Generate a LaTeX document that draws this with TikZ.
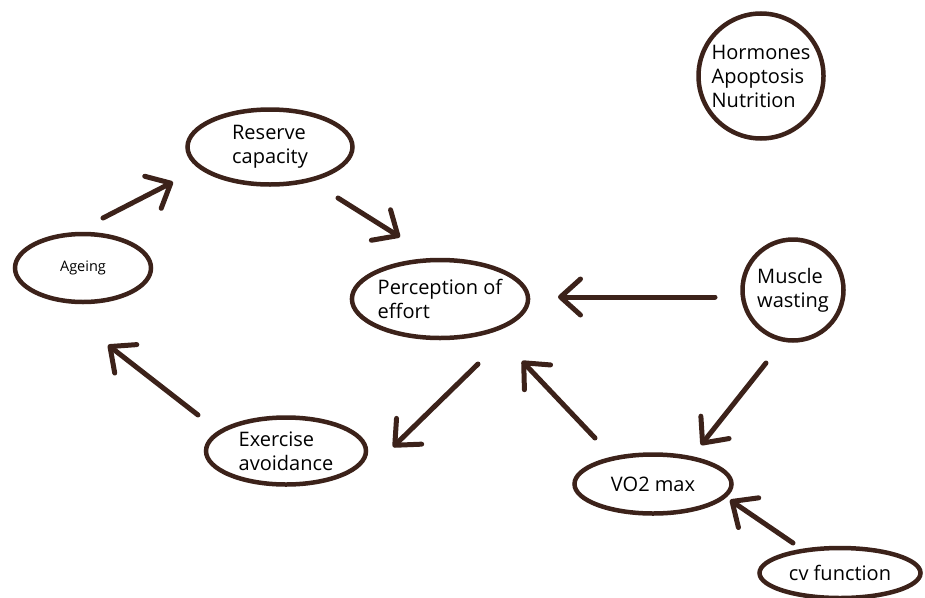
\documentclass[tikz,border=0pt]{standalone}
\usepackage{fontspec}
\setmainfont{Open Sans}
\usetikzlibrary{arrows.meta,shapes.geometric}
\definecolor{marrom}{RGB}{60,34,26}
\tikzset{
  bolha/.style={draw=marrom,line width=4.5pt,ellipse,inner sep=0pt,align=left,font=\fontsize{20}{24}\selectfont},
  bola/.style={draw=marrom,line width=4.5pt,circle,inner sep=0pt,align=left,font=\fontsize{20}{24}\selectfont},
  seta/.style={draw=marrom,line width=5pt,line cap=round,-{Straight Barb[round,length=20pt,width=36pt]}},
}
\begin{document}
\begin{tikzpicture}[x=1pt,y=-1pt]
  \useasboundingbox (0,0) rectangle (925,597);
  % elipses
  \node[bolha,minimum width=165pt,minimum height=75pt] (reserva) at (270,147) {Reserve\\capacity};
  \node[bolha,minimum width=136pt,minimum height=68pt,font=\fontsize{14.5}{17}\selectfont] (ageing) at (83,268) {Ageing};
  \node[bolha,minimum width=170pt,minimum height=78pt] (percep) at (440,299) {Perception of\\effort};
  \node[bolha,minimum width=160pt,minimum height=67pt] (exerc) at (286,451) {Exercise\\avoidance};
  \node[bolha,minimum width=157pt,minimum height=59pt] (vo) at (653,484) {VO2 max};
  \node[bolha,minimum width=161pt,minimum height=50pt] (cv) at (840,573) {cv function};
  % circulos
  \node[bola,minimum size=101pt] (muscle) at (793,290) {Muscle\\wasting};
  \node[bola,minimum size=125pt] (horm) at (761,76) {Hormones\\Apoptosis\\Nutrition};
  % setas (soltas, deslocadas dos centros)
  \draw[seta] ([shift={(20,-50)}]ageing.center) -- ([shift={(-97,35)}]reserva.center);
  \draw[seta] ([shift={(68,51)}]reserva.center) -- ([shift={(-40,-62)}]percep.center);
  \draw[seta] ([shift={(-78,7)}]muscle.center) -- ([shift={(118,-2)}]percep.center);
  \draw[seta] ([shift={(38,65)}]percep.center) -- ([shift={(107,-4)}]exerc.center);
  \draw[seta] ([shift={(-58,-46)}]vo.center) -- ([shift={(82,62)}]percep.center);
  \draw[seta] ([shift={(-27,73)}]muscle.center) -- ([shift={(48,-39)}]vo.center);
  \draw[seta] ([shift={(-47,-30)}]cv.center) -- ([shift={(77,16)}]vo.center);
  \draw[seta] ([shift={(-88,-36)}]exerc.center) -- ([shift={(25,77)}]ageing.center);
\end{tikzpicture}
\end{document}
